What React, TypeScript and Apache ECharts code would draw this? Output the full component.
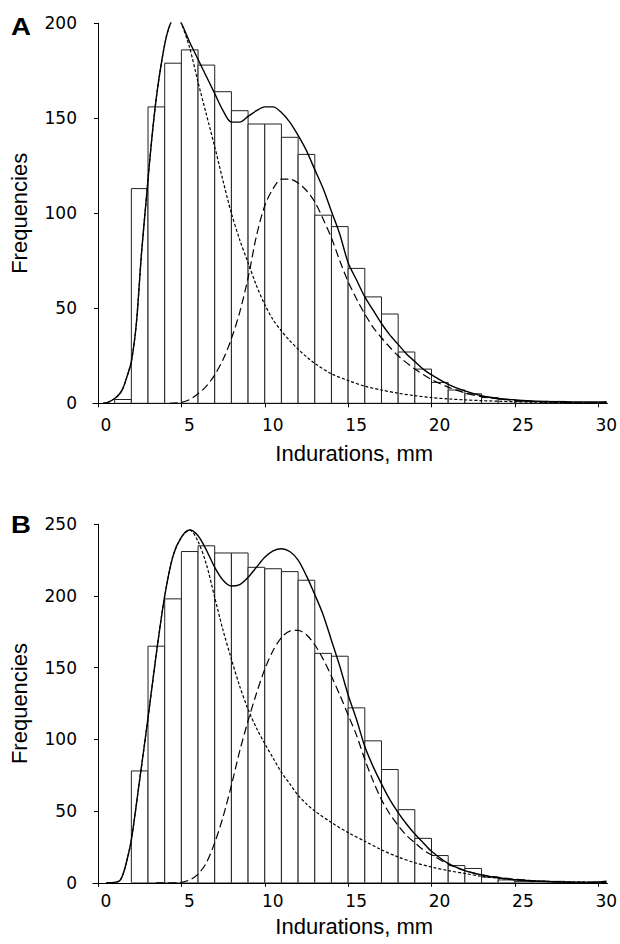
import React, { useEffect, useRef } from "react";
import * as echarts from "echarts";

// ---------- Data ----------
const BIN_WIDTH = 1;
const xTickValues = [0, 5, 10, 15, 20, 25, 30];

// Panel A histogram (bin start, frequency)
const binStartsA = [1, 2, 3, 4, 5, 6, 7, 8, 9, 10, 11, 12, 13, 14, 15, 16, 17, 18, 19, 20, 21, 22, 23, 24, 25, 26, 27, 28, 29];
const freqA = [2, 113, 156, 179, 186, 178, 164, 154, 147, 147, 140, 131, 99, 93, 71, 56, 47, 27, 18, 11, 7, 5, 3, 2, 1, 1, 1, 0, 0];

// Panel B histogram
const binStartsB = [2, 3, 4, 5, 6, 7, 8, 9, 10, 11, 12, 13, 14, 15, 16, 17, 18, 19, 20, 21, 22, 23, 24, 25, 26, 27, 28, 29];
const freqB = [78, 165, 198, 231, 235, 230, 230, 220, 219, 217, 211, 160, 158, 122, 99, 79, 51, 31, 19, 12, 10, 4, 2, 1, 1, 1, 0, 0];

// Panel A fitted curves
const totalAx = [0.3, 0.6, 1.0, 1.3, 1.5, 1.7, 2.0, 2.3, 2.6, 2.9, 3.2, 3.5, 3.8, 4.1, 4.4, 4.7, 5.0, 5.5, 6.0, 6.5, 7.0, 7.5, 8.0, 8.5, 9.0, 9.5, 10.0, 10.5, 11.0, 11.5, 12.0, 12.5, 13.0, 13.5, 14.0, 14.5, 15.0, 15.5, 16.0, 16.5, 17.0, 17.5, 18.0, 18.5, 19.0, 19.5, 20.0, 21, 22, 23, 24, 25, 26, 27, 28, 29, 30, 30.5];
const totalAy = [0, 0.5, 2.5, 5, 8, 13, 22, 42, 78, 108, 137, 161, 179, 193, 201, 204, 200, 190, 181, 172, 163, 154, 148, 148, 151, 154, 156, 156, 153, 148, 141, 133, 123, 113, 101, 89, 74, 65, 56, 49, 42, 36, 31, 26, 22, 18, 15, 10, 6.5, 4, 2.6, 1.8, 1.3, 1, 0.8, 0.7, 0.7, 0.8];

const comp1Ax = [0.3, 0.6, 1.0, 1.3, 1.5, 1.7, 2.0, 2.3, 2.6, 2.9, 3.2, 3.5, 3.8, 4.1, 4.4, 4.7, 5.0, 5.5, 6.0, 6.5, 7.0, 7.5, 8.0, 8.5, 9.0, 9.5, 10.0, 10.5, 11.0, 11.5, 12.0, 12.5, 13.0, 14, 15, 16, 17, 18, 19, 20, 21, 22, 23, 24, 25, 26, 27, 28, 29, 30, 30.5];
const comp1Ay = [0, 0.5, 2.5, 5, 8, 13, 22, 42, 78, 108, 137, 161, 179, 193, 201, 205, 200, 187, 169, 152, 135, 117, 100, 86, 74, 62, 52, 44, 38, 33, 28.5, 24.5, 21, 15.5, 12, 9, 7, 5.3, 4, 3, 2.3, 1.8, 1.4, 1.1, 0.8, 0.6, 0.5, 0.4, 0.3, 0.2, 0.2];

const comp2Ax = [4.3, 5, 5.5, 6, 6.5, 7, 7.5, 8, 8.5, 9, 9.5, 10, 10.5, 11, 11.5, 12, 12.5, 13, 13.5, 14, 14.5, 15, 15.5, 16, 16.5, 17, 17.5, 18, 19, 20, 21, 22, 23, 24, 25, 26, 27, 28, 29, 30, 30.5];
const comp2Ay = [0, 0.5, 2, 5, 9, 15, 23, 34, 48, 66, 88, 104, 113, 118, 118, 116, 112, 106, 97, 87, 75, 64, 55, 47, 40, 34.5, 29.5, 25, 18, 12.5, 8.5, 5.5, 3.5, 2.3, 1.5, 1, 0.6, 0.4, 0.3, 0.2, 0.2];

// Panel B fitted curves
const totalBx = [0.5, 1.0, 1.3, 1.5, 1.7, 2.0, 2.5, 3.0, 3.5, 4.0, 4.5, 5.0, 5.5, 6.0, 6.5, 7.0, 7.5, 8.0, 8.5, 9.0, 9.5, 10.0, 10.5, 11.0, 11.5, 12.0, 12.5, 13.0, 13.5, 14.0, 14.5, 15.0, 15.5, 16.0, 16.5, 17.0, 17.5, 18.0, 18.5, 19.0, 19.5, 20.0, 21, 22, 23, 24, 25, 26, 27, 28, 29, 30, 30.5];
const totalBy = [0, 0.3, 1.5, 6, 14, 30, 72, 115, 160, 200, 228, 241, 246, 242, 232, 220, 211, 207, 208, 213, 220, 227, 231.5, 233, 231, 225, 214, 201, 187, 169, 151, 131, 114, 95, 81, 69, 58, 49, 41, 34, 28, 22, 13.5, 8.5, 5.5, 3.5, 2.1, 1.3, 0.8, 0.5, 0.5, 0.6, 1.2];

const comp1Bx = [0.5, 1.0, 1.3, 1.5, 1.7, 2.0, 2.5, 3.0, 3.5, 4.0, 4.5, 5.0, 5.5, 6.0, 6.5, 7.0, 7.5, 8.0, 8.5, 9.0, 9.5, 10.0, 10.5, 11.0, 11.5, 12, 12.5, 13, 14, 15, 16, 17, 18, 19, 20, 21, 22, 23, 24, 25, 26, 27, 28, 29, 30, 30.5];
const comp1By = [0, 0.3, 1.5, 6, 14, 30, 72, 115, 160, 200, 228, 241, 246, 238, 222, 199, 176, 156, 137, 121, 108, 97, 87, 77, 69, 61, 55, 50, 42, 35, 29, 23, 18, 14, 11, 8.5, 6.5, 4.5, 3.2, 2.2, 1.5, 1, 0.7, 0.5, 0.3, 0.3];

const comp2Bx = [3.5, 4.8, 5.5, 6.0, 6.5, 7.0, 7.5, 8.0, 8.5, 9.0, 9.5, 10.0, 10.5, 11.0, 11.5, 12.0, 12.5, 13.0, 13.5, 14.0, 14.5, 15.0, 15.5, 16.0, 16.5, 17.0, 17.5, 18.0, 18.5, 19.0, 19.5, 20.0, 21, 22, 23, 24, 25, 26, 27, 28, 29, 30, 30.5];
const comp2By = [0, 0, 2, 6, 14, 28, 46, 68, 92, 113, 132, 149, 162, 171, 175.5, 176, 173, 166, 156, 144, 131, 117, 103, 86, 71, 58, 48, 40, 33, 28, 23, 19.5, 13, 8.5, 5.5, 3.8, 2.5, 1.6, 1, 0.6, 0.4, 0.3, 0.3];

const yMaxA = 200;
const yMaxB = 250;

// ---------- Helpers ----------
const pairs = (xs: number[], ys: number[]) => xs.map((x, i) => [x, ys[i]]);

const TICK_FONT = "DejaVu Sans";
const TITLE_FONT = "Liberation Sans";

function histSeries(starts: number[], freqs: number[], idx: number) {
  return {
    type: "custom",
    xAxisIndex: idx,
    yAxisIndex: idx,
    silent: true,
    clip: true,
    data: starts.map((s, i) => [s, s + BIN_WIDTH, freqs[i]]),
    encode: { x: [0, 1], y: 2 },
    renderItem: (params: any, api: any) => {
      const a = api.coord([api.value(0), api.value(2)]);
      const b = api.coord([api.value(1), 0]);
      return {
        type: "rect",
        shape: { x: a[0], y: a[1], width: b[0] - a[0], height: b[1] - a[1] },
        style: { fill: "#ffffff", stroke: "#222222", lineWidth: 1 },
      };
    },
  };
}

function curve(xs: number[], ys: number[], idx: number, type: any, width = 1.2) {
  return {
    type: "line",
    xAxisIndex: idx,
    yAxisIndex: idx,
    data: pairs(xs, ys),
    showSymbol: false,
    symbol: "none",
    smooth: 0.3,
    clip: true,
    silent: true,
    lineStyle: { color: "#000000", width, type },
    z: 5,
  };
}

function xAxisDef(idx: number, labelMargin: number, nameGap: number) {
  return {
    type: "value",
    gridIndex: idx,
    min: -0.3,
    max: 30.55,
    name: "Indurations, mm",
    nameLocation: "middle",
    nameGap,
    nameTextStyle: { fontFamily: TITLE_FONT, fontSize: 22, color: "#000", padding: [0, 0, 0, 8] },
    axisLine: { show: true, onZero: false, lineStyle: { color: "#000", width: 1 } },
    axisTick: { show: true, length: 4, customValues: xTickValues, lineStyle: { color: "#000" } },
    axisLabel: {
      customValues: xTickValues,
      fontFamily: TICK_FONT,
      fontSize: 17,
      color: "#000",
      margin: labelMargin,
      padding: [0, 0, 0, 16],
    },
    splitLine: { show: false },
  };
}

function yAxisDef(idx: number, max: number) {
  return {
    type: "value",
    gridIndex: idx,
    min: 0,
    max,
    interval: 50,
    name: "Frequencies",
    nameLocation: "middle",
    nameGap: 63,
    nameTextStyle: { fontFamily: TITLE_FONT, fontSize: 22, color: "#000" },
    axisLine: { show: true, onZero: true, lineStyle: { color: "#000", width: 1 } },
    axisTick: { show: true, length: 4, lineStyle: { color: "#000" } },
    axisLabel: { fontFamily: TICK_FONT, fontSize: 17, color: "#000", margin: 16 },
    splitLine: { show: false },
  };
}

export default function App() {
  const ref = useRef<HTMLDivElement>(null);

  useEffect(() => {
    if (!ref.current) return;
    const chart = echarts.init(ref.current, undefined, { renderer: "svg" });
    const option: any = {
      animation: false,
      backgroundColor: "#ffffff",
      grid: [
        { left: 88.2, top: 23.3, width: 520.4, height: 380 },
        { left: 88.2, top: 524.3, width: 520.4, height: 358.5 },
      ],
      xAxis: [xAxisDef(0, 13, 39), xAxisDef(1, 10, 33)],
      yAxis: [yAxisDef(0, yMaxA), yAxisDef(1, yMaxB)],
      series: [
        histSeries(binStartsA, freqA, 0),
        curve(comp1Ax, comp1Ay, 0, [3, 2], 1.2),
        curve(comp2Ax, comp2Ay, 0, [8, 4], 1.2),
        curve(totalAx, totalAy, 0, "solid", 1.4),
        histSeries(binStartsB, freqB, 1),
        curve(comp1Bx, comp1By, 1, [3, 2], 1.2),
        curve(comp2Bx, comp2By, 1, [8, 4], 1.2),
        curve(totalBx, totalBy, 1, "solid", 1.4),
      ],
      graphic: [
        {
          type: "text",
          x: 11,
          y: 27,
          scaleX: 1.2,
          style: { text: "A", x: 0, y: 0, textAlign: "left", textVerticalAlign: "middle", font: 'bold 23px "Liberation Sans"', fill: "#000" },
        },
        {
          type: "text",
          x: 11,
          y: 525,
          scaleX: 1.2,
          style: { text: "B", x: 0, y: 0, textAlign: "left", textVerticalAlign: "middle", font: 'bold 23px "Liberation Sans"', fill: "#000" },
        },
      ],
    };
    chart.setOption(option);
    return () => chart.dispose();
  }, []);

  return (
    <div
      ref={ref}
      style={{ position: "absolute", left: 0, top: 0, width: 620, height: 944, background: "#fff" }}
    />
  );
}
